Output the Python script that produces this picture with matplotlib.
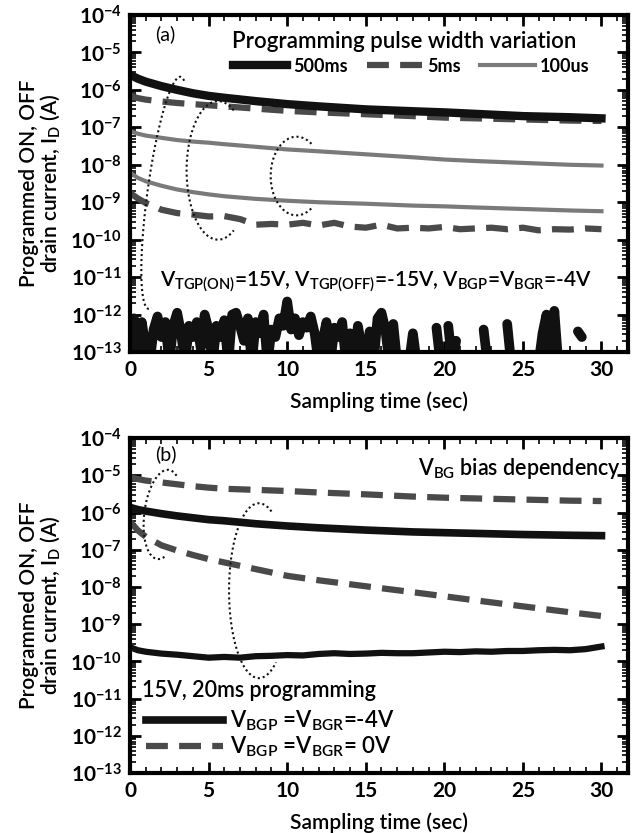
import numpy as np
import matplotlib
matplotlib.use("Agg")
import matplotlib.pyplot as plt
from matplotlib.ticker import MultipleLocator, LogLocator, NullFormatter

plt.rcParams['font.family'] = ['Lato', 'DejaVu Sans']
plt.rcParams['mathtext.fontset'] = 'custom'
plt.rcParams['mathtext.rm'] = 'Lato'
plt.rcParams['mathtext.bf'] = 'Lato:bold'
plt.rcParams['mathtext.default'] = 'regular'

### dati (esponenti log10 della corrente in A)
t_smooth = [0, 0.5, 1, 2, 3, 4, 5, 6, 8, 10, 12, 15, 18, 20, 22, 25, 28, 30]

# (a) larghezza impulso di programmazione
a_500ms_on = [-5.6, -5.7, -5.78, -5.9, -6.0, -6.09, -6.16, -6.21, -6.3, -6.38, -6.44, -6.52, -6.57, -6.6, -6.64, -6.7, -6.73, -6.76]
a_5ms_on = [-6.16, -6.22, -6.26, -6.31, -6.35, -6.38, -6.41, -6.44, -6.5, -6.56, -6.6, -6.65, -6.7, -6.74, -6.76, -6.79, -6.82, -6.83]
a_100us_on = [-7.1, -7.17, -7.22, -7.28, -7.34, -7.38, -7.41, -7.45, -7.52, -7.59, -7.64, -7.72, -7.8, -7.86, -7.9, -7.95, -8.0, -8.02]
a_100us_off = [-8.21, -8.35, -8.44, -8.56, -8.66, -8.73, -8.79, -8.84, -8.91, -8.96, -9.0, -9.04, -9.09, -9.11, -9.14, -9.18, -9.22, -9.24]

t_5ms_off = [0, 0.5, 1, 1.5, 2, 3, 4, 5, 6, 7, 8, 9, 10, 11, 12, 13, 14, 15, 16, 17, 18, 19, 20, 21, 22, 23, 24, 25, 26, 27, 28, 29, 30]
a_5ms_off = [-8.75, -8.9, -9.02, -9.1, -9.2, -9.29, -9.33, -9.38, -9.37, -9.45, -9.6, -9.58, -9.6, -9.55, -9.62, -9.55, -9.65,
             -9.68, -9.6, -9.7, -9.68, -9.7, -9.66, -9.72, -9.7, -9.68, -9.72, -9.68, -9.75, -9.72, -9.73, -9.7, -9.72]

# 500ms OFF: rumore vicino al fondo scala (nan = sotto il limite di misura)
t_noise = np.arange(0, 30.01, 0.25)
a_500ms_off = [
    -12.3, -12.1, -13.3, -12.2, -12.9, -13.3, -12.4, -12.05, -12.6, -12.2, -13.3, -12.3,
    -11.95, -12.5, -13.3, -12.3, -12.6, -12.2, -12.9, -12.0, -12.4, -13.3, -12.3, -12.6,
    -12.15, -13.3, -12.0, -11.95, -12.3, -12.7, -12.1, -13.3, -12.2, -12.5, -12.0, -13.3,
    -12.4, -12.6, -12.1, -12.3, -11.65, -12.4, -12.1, -12.55, -12.2, -12.35, -12.05, -12.5,
    -13.3, -12.7, -12.2, -13.3, -12.35, -12.6, -12.2, -13.3, -12.5, -13.3, -12.3, -12.9,
    -13.3, -12.45, -13.3, -12.1, -11.95, -12.4, -13.3, -12.25, -13.3, np.nan, np.nan, -13.3,
    -12.5, -13.3, np.nan, np.nan, -12.6, np.nan, -12.35, -13.3, np.nan, -12.3, -13.3, -12.7,
    np.nan, np.nan, np.nan, np.nan, np.nan, np.nan, -12.4, -13.3, np.nan, np.nan, np.nan, np.nan,
    -12.25, -13.3, np.nan, np.nan, np.nan, np.nan, np.nan, np.nan, -13.3, -12.5, -12.0, -13.3,
    -11.9, -13.3, np.nan, np.nan, np.nan, np.nan, -12.45, -12.6, np.nan, np.nan, np.nan, np.nan,
    np.nan,
]

# (b) dipendenza dal back gate
b_m4v_on = [-5.86, -5.92, -5.96, -6.03, -6.09, -6.14, -6.19, -6.22, -6.3, -6.36, -6.41, -6.47, -6.52, -6.54, -6.56, -6.59, -6.61, -6.62]
b_0v_on = [-5.05, -5.1, -5.14, -5.19, -5.24, -5.29, -5.33, -5.36, -5.39, -5.42, -5.46, -5.51, -5.57, -5.6, -5.62, -5.65, -5.68, -5.69]
b_0v_off = [-6.24, -6.48, -6.65, -6.88, -7.02, -7.14, -7.25, -7.34, -7.52, -7.7, -7.82, -7.98, -8.14, -8.25, -8.36, -8.52, -8.68, -8.78]

t_b_off = [0, 0.5, 1, 2, 3, 4, 5, 6, 7, 8, 9, 10, 11, 12, 13, 14, 15, 16, 17, 18, 19, 20, 21, 22, 23, 24, 25, 26, 27, 28, 29, 30]
b_m4v_off = [-9.62, -9.7, -9.74, -9.79, -9.82, -9.86, -9.9, -9.88, -9.9, -9.86, -9.85, -9.83, -9.84, -9.8, -9.78, -9.8,
             -9.79, -9.77, -9.78, -9.78, -9.76, -9.74, -9.75, -9.73, -9.74, -9.72, -9.72, -9.7, -9.69, -9.7, -9.67, -9.6]

ytick_exp = list(range(-4, -14, -1))
xtick_vals = [0, 5, 10, 15, 20, 25, 30]

BLACK = "#111111"
DARK = "#4a4a4a"
GRAY = "#7a7a7a"
DASH = (0, (3.5, 1.8))


def pw(vals):
    return 10.0 ** np.asarray(vals, dtype=float)


def dotted_arc(ax, cx, cy, a, b, shear, th0, th1):
    # ellisse disegnata in spazio (t, log10 I), solo come annotazione
    th = np.radians(np.linspace(th0, th1, 200))
    x = cx + a * np.cos(th) + shear * b * np.sin(th)
    y = cy + b * np.sin(th)
    ax.plot(x, 10.0 ** y, color=BLACK, lw=1.5, ls=(0, (1, 1.4)), zorder=5)


def style_axes(ax):
    ax.set_yscale("log")
    ax.xaxis.set_minor_locator(MultipleLocator(1))
    ax.yaxis.set_minor_locator(LogLocator(base=10, subs=np.arange(2, 10), numticks=20))
    ax.yaxis.set_minor_formatter(NullFormatter())
    ax.set_yticks([10.0 ** e for e in ytick_exp],
                  labels=[r"$\mathbf{10^{%d}}$" % e for e in ytick_exp], fontsize=15)
    ax.set_xticks(xtick_vals, labels=[str(v) for v in xtick_vals], fontsize=15, fontweight="bold")
    ax.tick_params(which="major", direction="in", top=True, right=True, length=8, width=2, pad=6)
    ax.tick_params(which="minor", direction="in", top=True, right=True, length=4, width=1.2)
    ax.set_xlim(0, 31.7)
    ax.set_ylim(1e-13, 1e-4)
    for s in ax.spines.values():
        s.set_linewidth(3)
    ax.set_xlabel("Sampling time (sec)", fontsize=15, fontweight="semibold", labelpad=8)
    ax.set_ylabel("Programmed ON, OFF\ndrain current, I$_{D}$ (A)", fontsize=15,
                  fontweight="semibold", labelpad=6, linespacing=0.95)


fig = plt.figure(figsize=(6.33, 8.33), dpi=100)
ax1 = fig.add_axes([0.2054, 0.5774, 0.787, 0.4046])
ax2 = fig.add_axes([0.2054, 0.072, 0.787, 0.402])

### pannello (a)
ax1.plot(t_noise, pw(a_500ms_off), color=BLACK, lw=7, solid_capstyle="round", solid_joinstyle="round")
ax1.plot(t_5ms_off, pw(a_5ms_off), color=DARK, lw=4.5, ls=DASH)
ax1.plot(t_smooth, pw(a_100us_off), color=GRAY, lw=3)
ax1.plot(t_smooth, pw(a_100us_on), color=GRAY, lw=3, label="100us")
ax1.plot(t_smooth, pw(a_5ms_on), color=DARK, lw=4.5, ls=DASH, label="5ms")
ax1.plot(t_smooth, pw(a_500ms_on), color=BLACK, lw=6, label="500ms")
style_axes(ax1)

dotted_arc(ax1, 2.2, -8.75, 1.1, 3.1, 0.32, 75, 278)
dotted_arc(ax1, 5.6, -8.15, 2.0, 1.85, 0.0, 60, 300)
dotted_arc(ax1, 10.6, -8.3, 1.65, 1.05, 0.0, 55, 305)

ax1.text(0.05, 0.97, "(a)", transform=ax1.transAxes, fontsize=14, va="top")
ax1.text(0.55, 0.92, "Programming pulse width variation", transform=ax1.transAxes,
         fontsize=16, fontweight="semibold", ha="center", va="center")
h, l = ax1.get_legend_handles_labels()
ax1.legend(h[::-1], l[::-1], ncol=3, loc="center", bbox_to_anchor=(0.565, 0.848), frameon=False,
           handlelength=3.0, handletextpad=0.3, columnspacing=1.1, borderpad=0,
           prop={"weight": "bold", "size": 13})
ax1.text(0.494, 0.208,
         r"V$_{TGP(ON)}$=15V, V$_{TGP(OFF)}$=-15V, V$_{BGP}$=V$_{BGR}$=-4V",
         transform=ax1.transAxes, fontsize=15, ha="center", va="center", fontweight="semibold")

### pannello (b)
ax2.plot(t_b_off, pw(b_m4v_off), color=BLACK, lw=4.5)
ax2.plot(t_smooth, pw(b_0v_off), color=DARK, lw=4.5, ls=DASH)
ax2.plot(t_smooth, pw(b_0v_on), color=DARK, lw=4.5, ls=DASH, label=r"V$_{BGP}$ =V$_{BGR}$= 0V")
ax2.plot(t_smooth, pw(b_m4v_on), color=BLACK, lw=5.5, label=r"V$_{BGP}$ =V$_{BGR}$=-4V")
style_axes(ax2)

dotted_arc(ax2, 2.1, -6.05, 1.2, 1.2, 0.25, 60, 295)
dotted_arc(ax2, 8.2, -8.1, 1.9, 2.35, 0.0, 65, 305)

ax2.text(0.05, 0.98, "(b)", transform=ax2.transAxes, fontsize=14, va="top")
ax2.text(0.985, 0.91, r"V$_{BG}$ bias dependency", transform=ax2.transAxes,
         fontsize=15.5, ha="right", va="center", fontweight="semibold")
ax2.text(0.025, 0.245, "15V, 20ms programming", transform=ax2.transAxes,
         fontsize=15.5, ha="left", va="center", fontweight="semibold")
h, l = ax2.get_legend_handles_labels()
ax2.legend(h[::-1], l[::-1], loc="lower left", bbox_to_anchor=(0.0, -0.005), frameon=False,
           handlelength=3.5, handletextpad=0.3, labelspacing=0.05, borderpad=0.2,
           prop={"weight": "semibold", "size": 16})

fig.savefig("out.png", dpi=100)
